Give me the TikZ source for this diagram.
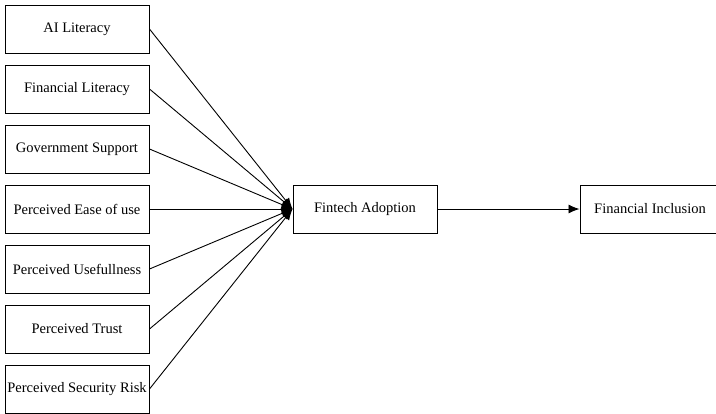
\documentclass[tikz,border=0pt]{standalone}
\usepackage{fontspec}
\setmainfont{Liberation Serif}
\usetikzlibrary{arrows.meta}

\tikzset{
    factor/.style={draw, line width=1pt, minimum width=144pt, minimum height=48pt, inner sep=0pt, font=\fontsize{14.5}{16}\selectfont},
    link/.style={line width=0.9pt, -{Latex[length=11pt, width=9pt]}}
}

\begin{document}
\begin{tikzpicture}[x=1pt, y=-1pt]
            \useasboundingbox (0, 0) rectangle (716, 413);
            \node[factor] (fa) at (365, 209) {Fintech Adoption};
            \node[factor, minimum width=140pt] (fi) at (650, 209) {Financial Inclusion};
            \foreach \y/\name/\txt in {29/ai/AI Literacy, 89/fl/Financial Literacy, 149/gs/Government Support, 209/pe/Perceived Ease of use, 269/pu/Perceived Usefullness, 329/pt/Perceived Trust, 389/ps/Perceived Security Risk} {
                \node[factor] (\name) at (77, \y) {\txt};
                \draw[link] (\name.east) -- (fa.west);
            }
            \draw[link] (fa) -- (fi);
        \end{tikzpicture}
\end{document}
